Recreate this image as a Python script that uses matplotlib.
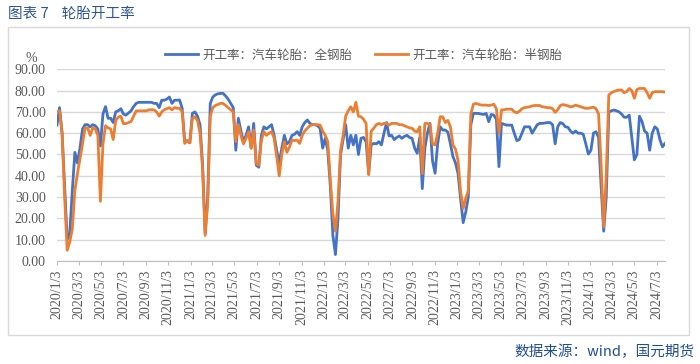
import matplotlib

matplotlib.use("Agg")
import matplotlib.dates as mdates
import matplotlib.pyplot as plt
import pandas as pd
from matplotlib.patches import Rectangle

SERIF = "Liberation Serif"
plt.rcParams["font.family"] = [SERIF, "Noto Sans CJK SC", "DejaVu Sans"]

# weekly series, first observation 2020-01-03
start_date = "2020-01-03"

all_steel = [
    63.8, 72, 60, 35, 10, 13, 33, 51, 46, 53, 62, 64, 64, 63, 64, 63.5, 62, 54, 69, 72.5,
    67, 67, 65, 70, 70.5, 71.5, 69, 68.5, 69.5, 70.5, 72.5, 74, 74.5, 74.5, 74.5, 74.5, 74.5, 74.5, 74, 74,
    72, 75.5, 75.5, 76, 77, 74, 75.5, 75.5, 75.6, 71.7, 56, 56.5, 55.5, 69.3, 70, 68, 64, 45, 13, 30,
    74, 77, 78, 78.5, 78.7, 78.7, 77.5, 76, 74, 72, 52, 67, 61, 56, 59, 63, 53, 64.6, 45, 44,
    59, 63, 62, 63, 64, 59, 52, 46, 53, 59, 55, 56, 59, 59.5, 60.7, 59, 63, 65, 66.2, 64.6,
    64, 64, 63.5, 62.3, 53, 57.6, 52, 35, 12, 3, 20, 50, 57, 64, 53, 59, 54.5, 59, 50, 57.6,
    58, 56, 41, 54.5, 55.2, 55, 56, 54.5, 60, 65, 58.7, 59, 57, 58, 58.7, 57.6, 58.5, 59, 58, 57.6,
    53, 50.6, 58, 34, 53, 60, 64.6, 47, 41.2, 55, 63, 61.5, 61.5, 60.5, 55, 49, 46, 41, 29, 18,
    23, 30, 64, 69.3, 69.3, 69.3, 69, 68.8, 69.3, 65.4, 68.8, 68.5, 66.5, 44.3, 64.6, 64.2, 63.8, 63.8, 63.8, 60,
    56.5, 57, 60, 63, 63, 63, 60, 62, 64, 64.6, 64.6, 64.8, 65, 65, 64, 55, 63, 65, 64.5, 63,
    62.8, 61, 60, 61, 60, 60, 59.5, 55, 50.2, 52, 60, 60.7, 58, 35, 14, 30, 70, 70.5, 70.9, 70.5,
    70, 69, 67.5, 67.5, 68.5, 58, 47.5, 50, 68, 65.5, 61, 60, 52, 60, 63, 62, 57, 53.6, 55.2,
]

semi_steel = [
    70, 70.5, 60, 30, 5, 9, 15, 33, 41, 48, 55, 62.5, 62.5, 59, 62.5, 62, 59, 28, 55, 63.5,
    62.5, 62, 57, 66, 67.5, 68, 64.5, 64.5, 65, 65.5, 68, 70.5, 70.5, 70.5, 70.5, 70.5, 71, 71, 71, 70,
    68, 70, 71, 71.5, 72, 71, 72, 71.7, 71.7, 70, 55.2, 56.5, 55.5, 67, 67.7, 66, 60, 43, 12, 27,
    68, 72, 73, 73.5, 74, 74, 73, 72, 71, 70, 56, 64, 59, 55, 57.6, 60.7, 53, 61.5, 45.8, 45,
    56.5, 60.7, 59, 60, 60.7, 57.6, 49, 40, 50, 56, 51, 53.5, 56.8, 56.5, 56.8, 55.2, 59, 61, 62.3, 63.5,
    64, 64, 64, 63.8, 61, 59, 56, 38, 22, 14, 28, 52, 59, 68, 70.5, 72.4, 70, 74.5, 68, 67.7,
    66.5, 64.6, 40.5, 61, 62.3, 64, 64.6, 64, 64.6, 64.6, 63.8, 64.6, 64.6, 64.6, 64, 64, 63.5, 63, 62.5, 62.3,
    61, 60.7, 63, 41, 64.6, 64.6, 64, 55, 54.5, 60, 67.7, 67.7, 65, 66, 63, 54.5, 52.5, 47, 32.5, 24.7,
    29.4, 33, 69, 73.6, 74, 73.6, 73.2, 73.2, 73.2, 73, 73.2, 73.6, 71.5, 60, 70.9, 71, 71.3, 71.3, 71.3, 70,
    69.6, 70.3, 71.5, 72, 72.2, 72.4, 72.8, 73, 73, 73, 72.4, 72.2, 72, 72, 71.5, 69.8, 71, 73, 73.4, 73.2,
    72.8, 72.4, 72.6, 73.2, 72.8, 72.4, 72, 71.7, 71.7, 72, 72.2, 71.5, 69, 45, 16, 40, 77.9, 79, 79.6, 80,
    80.3, 80.3, 79, 79.5, 81, 80, 76.4, 80.5, 81, 81, 81, 79, 76.4, 79, 79.5, 79.5, 79.5, 79.5, 79.3,
]

series_labels = ["开工率：汽车轮胎：全钢胎", "开工率：汽车轮胎：半钢胎"]
y_ticks = [0, 10, 20, 30, 40, 50, 60, 70, 80, 90]

BLUE = "#4472C4"
ORANGE = "#ED7D31"
GRAY_TEXT = "#595959"
GRID = "#D9D9D9"
CJK = ["Noto Sans CJK SC", "DejaVu Sans"]

dates = pd.date_range(start_date, periods=len(all_steel), freq="7D")

fig = plt.figure(figsize=(7, 3.64), dpi=100)
ax = fig.add_axes([0.0814, 0.283, 0.8686, 0.5266])

ax.plot(dates, all_steel, color=BLUE, lw=2.0, label=series_labels[0], solid_joinstyle="round")
ax.plot(dates, semi_steel, color=ORANGE, lw=2.0, label=series_labels[1], solid_joinstyle="round")

ax.set_xlim(dates[0], dates[-1])
ax.set_ylim(0, 90)
ax.set_yticks(y_ticks)
ax.set_yticklabels([f"{v:.2f}" for v in y_ticks])
ax.yaxis.grid(True, color=GRID, lw=1.0)
ax.set_axisbelow(True)

ax.xaxis.set_major_locator(mdates.MonthLocator(bymonth=[1, 3, 5, 7, 9, 11], bymonthday=3))
ax.xaxis.set_major_formatter(
    plt.FuncFormatter(lambda x, pos: (lambda d: f"{d.year}/{d.month}/{d.day}")(mdates.num2date(x)))
)

for side in ("top", "right", "left"):
    ax.spines[side].set_visible(False)
ax.spines["bottom"].set_color("#BFBFBF")
ax.tick_params(axis="y", length=0, pad=8, labelsize=10, labelcolor=GRAY_TEXT)
ax.tick_params(axis="x", length=3, width=0.8, color="#BFBFBF", pad=3, labelsize=10,
               labelcolor=GRAY_TEXT, labelrotation=90)

ax.text(-0.042, 1.055, "%", transform=ax.transAxes, ha="center", va="center",
        fontsize=10, color=GRAY_TEXT, family=SERIF)

leg = fig.legend(loc="center", bbox_to_anchor=(0.52, 0.849), ncol=2, frameon=False,
                 handlelength=2.6, columnspacing=1.8, handletextpad=0.4,
                 prop={"family": CJK, "size": 9})
for t in leg.get_texts():
    t.set_color(GRAY_TEXT)

# chart frame, title and source
fig.add_artist(Rectangle((0.012, 0.08), 0.972, 0.846, transform=fig.transFigure,
                         fill=False, edgecolor=GRID, lw=1.0))
fig.text(0.012, 0.962, "图表 7    轮胎开工率", family=CJK, fontsize=10.5,
         color="#2F5597", ha="left", va="center")
fig.text(0.992, 0.033, "数据来源：wind，国元期货", family=CJK, fontsize=10.5,
         color="#1F4E99", ha="right", va="center")

fig.savefig("out.png", dpi=100)
